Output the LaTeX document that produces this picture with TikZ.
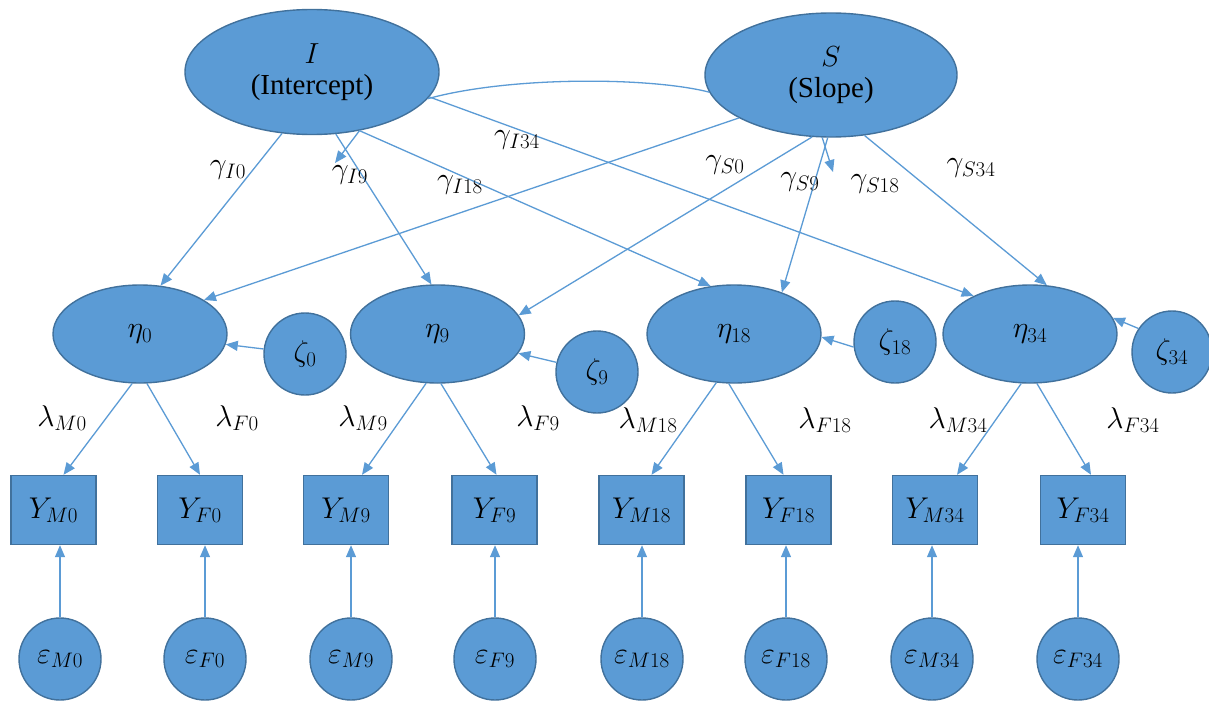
\RequirePackage{fix-cm}
\documentclass[tikz,border=0pt]{standalone}
\usepackage{fontspec}
\setmainfont{Liberation Serif}
\usetikzlibrary{shapes.geometric,arrows.meta,calc}
\definecolor{nodefill}{HTML}{5B9BD5}
\definecolor{nodeline}{HTML}{41719C}
\definecolor{arrowcol}{HTML}{5B9BD5}
\tikzset{
  basefont/.style={font=\fontsize{29}{31}\selectfont},
  mathfont/.style={font=\fontsize{30}{32}\selectfont},
  latent/.style={ellipse, draw=nodeline, fill=nodefill, line width=1.4pt, inner sep=0pt, mathfont},
  bigell/.style={latent, minimum width=254pt, minimum height=125pt, align=center, basefont},
  etaell/.style={latent, minimum width=174pt, minimum height=98pt},
  errcirc/.style={latent, minimum width=82pt, minimum height=82pt},
  obsbox/.style={rectangle, draw=nodeline, fill=nodefill, line width=1.4pt, inner sep=0pt, minimum width=85pt, minimum height=69pt, mathfont},
  lbl/.style={inner sep=0pt, mathfont},
  conn/.style={draw=arrowcol, line width=1.3pt},
  arr/.style={conn, -{Triangle[length=12pt,width=10pt]}}
}
\begin{document}
\begin{tikzpicture}[x=1pt,y=-1pt]
\useasboundingbox (0,0) rectangle (1209,701);
\clip (0,0) rectangle (1209,701);
\fill[white] (0,0) rectangle (1209,701);

% top latent factors
\node[bigell] (I) at (312,72) {$I$\\(Intercept)};
\node[bigell, minimum width=252pt, minimum height=124pt] (S) at (831,75) {$S$\\(Slope)};

% eta factors
\node[etaell] (eta0)  at (140,334)   {$\eta_0$};
\node[etaell] (eta9)  at (437.5,334) {$\eta_9$};
\node[etaell] (eta18) at (734,334)   {$\eta_{18}$};
\node[etaell] (eta34) at (1030,334)  {$\eta_{34}$};

% disturbances
\node[errcirc] (zeta0)  at (305,354)  {$\zeta_0$};
\node[errcirc] (zeta9)  at (597,372)  {$\zeta_9$};
\node[errcirc] (zeta18) at (895,342)  {$\zeta_{18}$};
\node[errcirc, minimum width=80pt] (zeta34) at (1172,352) {$\zeta_{34}$};

% observed
\node[obsbox] (YM0)  at (53.5,510)  {$Y_{M0}$};
\node[obsbox] (YF0)  at (200,510)   {$Y_{F0}$};
\node[obsbox] (YM9)  at (346,510)   {$Y_{M9}$};
\node[obsbox] (YF9)  at (494.5,510) {$Y_{F9}$};
\node[obsbox] (YM18) at (641.5,510) {$Y_{M18}$};
\node[obsbox] (YF18) at (788.5,510) {$Y_{F18}$};
\node[obsbox] (YM34) at (935,510)   {$Y_{M34}$};
\node[obsbox] (YF34) at (1083,510)  {$Y_{F34}$};

% residuals
\node[errcirc] (eM0)  at (60,659)   {$\varepsilon_{M0}$};
\node[errcirc] (eF0)  at (205,659)  {$\varepsilon_{F0}$};
\node[errcirc] (eM9)  at (351,659)  {$\varepsilon_{M9}$};
\node[errcirc] (eF9)  at (495,659)  {$\varepsilon_{F9}$};
\node[errcirc] (eM18) at (642,659)  {$\varepsilon_{M18}$};
\node[errcirc] (eF18) at (786,659)  {$\varepsilon_{F18}$};
\node[errcirc] (eM34) at (932,659)  {$\varepsilon_{M34}$};
\node[errcirc] (eF34) at (1078,659) {$\varepsilon_{F34}$};

% covariance arc between I and S
\draw[conn] (I.-13) .. controls (510,76) and (650,77) .. (S.-172);

% growth loadings from I
\draw[arr] (I.-116) -- (eta0.67);
\draw[arr] (I.-69) -- (eta9.97);
\draw[arr] (I.-51) -- (eta18.116);
\draw[arr] (I.-12) -- (eta34.146);
% growth loadings from S
\draw[arr] (S.-155) -- (eta0.28);
\draw[arr] (S.-107) -- (eta9.13);
\draw[arr] (S.-93) -- (eta18.41);
\draw[arr] (S.-61) -- (eta34.71);

% short stray arrows
\coordinate (Ihook) at (335,163);
\coordinate (Shook) at (833,172);
\draw[arr] (I.-51) -- (Ihook);
\draw[arr] (S.-98) -- (Shook);

% disturbances to eta
\draw[arr] (zeta0) -- (eta0);
\draw[arr] (zeta9) -- (eta9);
\draw[arr] (zeta18.-173) -- (eta18.-2);
\draw[arr] (zeta34.145) -- (eta34.11);

% factor loadings
\draw[arr] (eta0.-99)   -- ($(YM0.north)+(10,0)$);
\draw[arr] (eta0.-82)   -- (YF0.north);
\draw[arr] (eta9.-103)  -- ($(YM9.north)+(16,0)$);
\draw[arr] (eta9.-86)   -- ($(YF9.north)+(2,0)$);
\draw[arr] (eta18.-110) -- ($(YM18.north)+(10,0)$);
\draw[arr] (eta18.-96)  -- ($(YF18.north)+(-5,0)$);
\draw[arr] (eta34.-100) -- ($(YM34.north)+(22,0)$);
\draw[arr] (eta34.-82)  -- ($(YF34.north)+(8,0)$);

% residual arrows
\foreach \e/\y in {eM0/YM0,eF0/YF0,eM9/YM9,eF9/YF9,eM18/YM18,eF18/YF18,eM34/YM34,eF34/YF34}
  \draw[arr] (\e.north) -- (\e.north |- \y.south);

% gamma labels
\node[lbl] (gI0)  at (228,170) {$\gamma_{I0}$};
\node[lbl] (gI9)  at (350,175) {$\gamma_{I9}$};
\node[lbl] (gI18) at (460,185) {$\gamma_{I18}$};
\node[lbl] (gI34) at (517,140) {$\gamma_{I34}$};
\node[lbl] (gS0)  at (725,165) {$\gamma_{S0}$};
\node[lbl] (gS9)  at (800,182) {$\gamma_{S9}$};
\node[lbl] (gS18) at (875,184) {$\gamma_{S18}$};
\node[lbl] (gS34) at (971,168) {$\gamma_{S34}$};

% lambda labels
\node[lbl] (lM0)  at (62,418)   {$\lambda_{M0}$};
\node[lbl] (lF0)  at (237,418)  {$\lambda_{F0}$};
\node[lbl] (lM9)  at (363,418)  {$\lambda_{M9}$};
\node[lbl] (lF9)  at (538,418)  {$\lambda_{F9}$};
\node[lbl] (lM18) at (648,420)  {$\lambda_{M18}$};
\node[lbl] (lF18) at (825,420)  {$\lambda_{F18}$};
\node[lbl] (lM34) at (958,420)  {$\lambda_{M34}$};
\node[lbl] (lF34) at (1133,420) {$\lambda_{F34}$};
\end{tikzpicture}
\end{document}
